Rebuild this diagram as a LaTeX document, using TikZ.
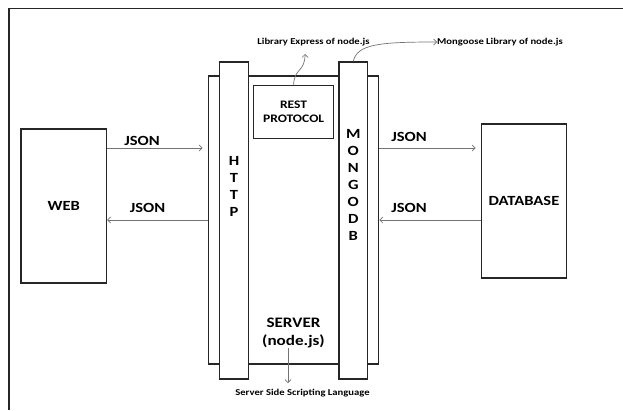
\documentclass[tikz,border=0pt]{standalone}
\usepackage{fontspec}
\setmainfont{Carlito}[FakeStretch=1.18]
\usetikzlibrary{arrows.meta}

\begin{document}
\begin{tikzpicture}[
    x=1pt, y=-1pt,
    box/.style={
        draw=black!85,
        line width=1.3pt,
        fill=white,
        inner sep=0pt,
        font=\fontsize{14}{17}\selectfont\bfseries,
        align=center,
    },
    bar/.style={
        box,
        minimum width=28.5pt,
        minimum height=317pt,
    },
    tall/.style={
        box,
        minimum width=85.5pt,
        minimum height=154pt,
    },
    label/.style={
        font=\fontsize{14}{17}\selectfont\bfseries,
        align=center,
        inner sep=0pt,
    },
    note/.style={
        font=\fontsize{9}{10}\selectfont\bfseries,
        inner sep=0pt,
    },
    flow/.style={
        draw=black!55,
        line width=0.7pt,
        -{Straight Barb[length=3pt,width=6pt]},
    },
]
\useasboundingbox (0,0) rectangle (623,410);
\draw[black!85, line width=1.3pt] (9,410) |- (623,8.5);

% boxes
\node[tall] (web) at (63.8, 206) {WEB};
\node[tall] (db) at (524, 201) {DATABASE};
\node[box, minimum width=170pt, minimum height=288pt] (server) at (293.6, 220) {};
\node[bar] (http) at (234, 220.5) {};
\node[bar] (mongo) at (353.3, 220.5) {};
\node[box, minimum width=80pt, minimum height=52.6pt,
      font=\fontsize{11.5}{14}\selectfont\bfseries] (rest) at (293.6, 112) {REST\\PROTOCOL};

% texts
\node[label] (httptxt) at (234, 186) {H\\T\\T\\P};
\node[label] (mongotxt) at (353.3, 185) {M\\O\\N\\G\\O\\D\\B};
\node[label, font=\fontsize{14.5}{17.5}\selectfont\bfseries] (srvtxt) at (293.5, 333) {SERVER\\(node.js)};
\node[label] (json1) at (142, 140.5) {JSON};
\node[label] (json2) at (147.5, 208) {JSON};
\node[label] (json3) at (409, 136.5) {JSON};
\node[label] (json4) at (409, 208) {JSON};
\node[note] (express) at (313.5, 42) {Library Express of node.js};
\node[note, anchor=west] (mongoose) at (437, 42) {Mongoose Library of node.js};
\node[note] (scripting) at (302.5, 393) {Server Side Scripting Language};

% connectors
\coordinate (httpin) at (202.6, 148);
\coordinate (dbin) at (475.6, 148);
\coordinate (expressup) at (305, 54);
\coordinate (scriptdown) at (288, 383);
\draw[flow] (web.east |- httpin) -- (httpin);
\draw[flow] (server.west) -- (server.west -| web.east);
\draw[flow] (server.east |- dbin) -- (dbin);
\draw[flow] (db.west |- server.east) -- (server.east);
\draw[flow] (rest.north) .. controls (294,68) and (305,72) .. (expressup);
\draw[flow] (mongo.north) .. controls (357,44) and (380,42) .. (mongoose.west);
\draw[flow] (scriptdown |- srvtxt.south) -- (scriptdown);

\end{tikzpicture}
\end{document}
